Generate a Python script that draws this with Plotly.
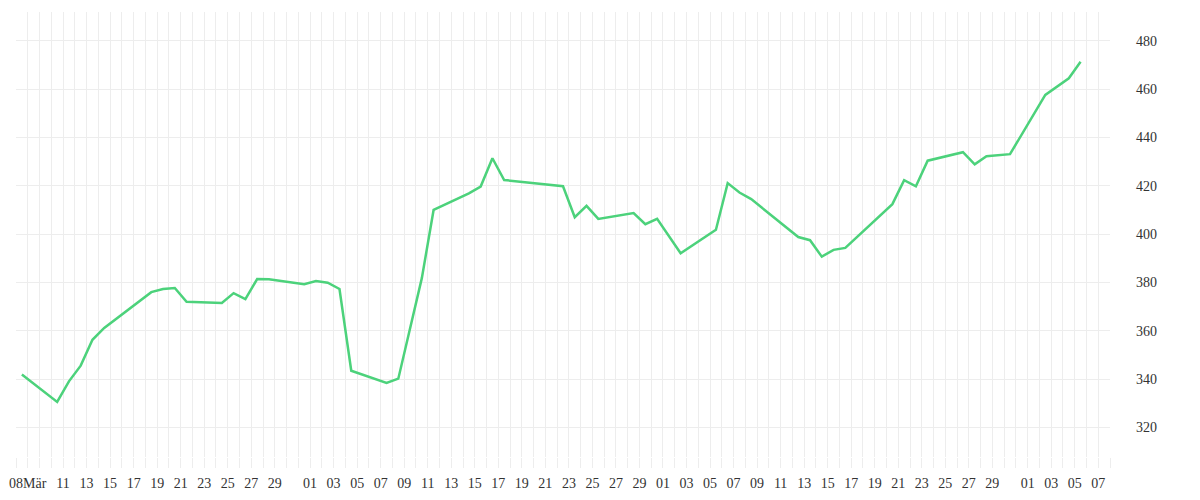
import pandas as pd
import plotly.graph_objects as go

# ---- data ----
dates = [
    "2024-03-08", "2024-03-11", "2024-03-12", "2024-03-13", "2024-03-14", "2024-03-15",
    "2024-03-19", "2024-03-20", "2024-03-21", "2024-03-22", "2024-03-25", "2024-03-26",
    "2024-03-27", "2024-03-28", "2024-03-29", "2024-04-01", "2024-04-02", "2024-04-03",
    "2024-04-04", "2024-04-05", "2024-04-08", "2024-04-09", "2024-04-11", "2024-04-12",
    "2024-04-15", "2024-04-16", "2024-04-17", "2024-04-18", "2024-04-23", "2024-04-24",
    "2024-04-25", "2024-04-26", "2024-04-29", "2024-04-30", "2024-05-01", "2024-05-03",
    "2024-05-06", "2024-05-07", "2024-05-08", "2024-05-09", "2024-05-13", "2024-05-14",
    "2024-05-15", "2024-05-16", "2024-05-17", "2024-05-21", "2024-05-22", "2024-05-23",
    "2024-05-24", "2024-05-27", "2024-05-28", "2024-05-29", "2024-05-31", "2024-06-03",
    "2024-06-05", "2024-06-06",
]
values = [
    341.9, 330.6, 339.1, 345.6, 356.3, 361.2,
    376.0, 377.3, 377.7, 372.0, 371.5, 375.6,
    373.1, 381.4, 381.3, 379.3, 380.6, 379.9,
    377.3, 343.5, 338.4, 340.2, 381.8, 410.0,
    416.9, 419.7, 431.4, 422.4, 419.8, 407.0,
    411.7, 406.3, 408.7, 404.1, 406.3, 392.1,
    401.8, 421.1, 417.2, 414.5, 398.8, 397.5,
    390.7, 393.5, 394.3, 412.4, 422.3, 419.8,
    430.4, 433.9, 428.9, 432.2, 433.1, 457.6,
    464.5, 471.3,
]

tick_dates = [
    "2024-03-08", "2024-03-11", "2024-03-13", "2024-03-15", "2024-03-17", "2024-03-19",
    "2024-03-21", "2024-03-23", "2024-03-25", "2024-03-27", "2024-03-29",
    "2024-04-01", "2024-04-03", "2024-04-05", "2024-04-07", "2024-04-09", "2024-04-11",
    "2024-04-13", "2024-04-15", "2024-04-17", "2024-04-19", "2024-04-21", "2024-04-23",
    "2024-04-25", "2024-04-27", "2024-04-29",
    "2024-05-01", "2024-05-03", "2024-05-05", "2024-05-07", "2024-05-09", "2024-05-11",
    "2024-05-13", "2024-05-15", "2024-05-17", "2024-05-19", "2024-05-21", "2024-05-23",
    "2024-05-25", "2024-05-27", "2024-05-29",
    "2024-06-01", "2024-06-03", "2024-06-05", "2024-06-07",
]
tick_labels = [
    "08Mär", "11", "13", "15", "17", "19", "21", "23", "25", "27", "29",
    "01", "03", "05", "07", "09", "11", "13", "15", "17", "19", "21", "23", "25", "27", "29",
    "01", "03", "05", "07", "09", "11", "13", "15", "17", "19", "21", "23", "25", "27", "29",
    "01", "03", "05", "07",
]
y_ticks = [320, 340, 360, 380, 400, 420, 440, 460, 480]

# ---- figure ----
grid = "#ededed"
font_family = "Liberation Serif"
text_color = "#333333"
shift = pd.Timedelta(hours=12)

x = pd.to_datetime(dates)
tickvals = [pd.Timestamp(d) + shift for d in tick_dates]

fig = go.Figure()
fig.add_trace(go.Scatter(
    x=x, y=values, mode="lines",
    line=dict(color="#4cd27b", width=2.5),
    hoverinfo="x+y", showlegend=False,
))

fig.update_layout(
    width=1184, height=484,
    margin=dict(l=8, r=82, t=4, b=35),
    paper_bgcolor="white", plot_bgcolor="white",
    font=dict(family=font_family, size=14, color=text_color),
    xaxis=dict(
        type="date", automargin=False,
        range=[pd.Timestamp("2024-03-07") + shift, pd.Timestamp("2024-06-08") + shift],
        tickmode="array", tickvals=tickvals, ticktext=tick_labels,
        showgrid=True, gridcolor=grid, gridwidth=1,
        ticks="outside", ticklen=10, tickcolor=grid, tickwidth=1,
        ticklabelstandoff=3,
        minor=dict(dtick=86400000, tick0=pd.Timestamp("2024-03-07") + shift,
                   showgrid=True, gridcolor=grid, gridwidth=1,
                   ticks="outside", ticklen=10, tickcolor=grid, tickwidth=1),
        showline=False, zeroline=False,
        tickfont=dict(family=font_family, size=14, color=text_color),
    ),
    yaxis=dict(
        side="right", automargin=False,
        range=[307.8, 491.9],
        tickmode="array", tickvals=y_ticks,
        showgrid=True, gridcolor=grid, gridwidth=1,
        ticks="", ticklabelstandoff=25,
        showline=False, zeroline=False,
        tickfont=dict(family=font_family, size=14, color=text_color),
    ),
)

fig.write_html("out.html")
